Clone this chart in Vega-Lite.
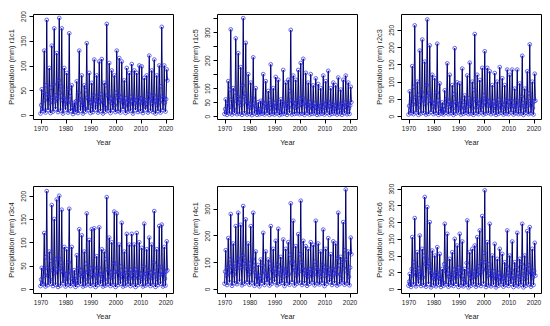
{
"$schema": "https://vega.github.io/schema/vega-lite/v6.json",
"padding": {"left": 6, "top": 10, "right": 5, "bottom": 5},
"background": "white",
"config": {
 "view": {"stroke": "#000", "strokeWidth": 1},
 "axis": {"domain": false, "grid": false, "tickColor": "#000", "tickSize": 4, "labelColor": "#222", "labelFont": "Liberation Sans", "labelFontSize": 6.5, "titleFont": "Liberation Sans", "titleFontSize": 7.3, "titleFontWeight": "normal", "titleColor": "#222"},
 "axisY": {"labelAngle": -90, "labelAlign": "center", "labelBaseline": "bottom", "labelPadding": 3, "titlePadding": 5},
 "axisX": {"labelPadding": 2, "titlePadding": 7}
},
"datasets": {
"p1": [
{"x":1970,"v":3},{"x":1970.25,"v":20},{"x":1970.5,"v":52},{"x":1970.75,"v":12},
{"x":1971,"v":8},{"x":1971.25,"v":45},{"x":1971.5,"v":130},{"x":1971.75,"v":30},
{"x":1972,"v":5},{"x":1972.25,"v":60},{"x":1972.5,"v":192},{"x":1972.75,"v":42},
{"x":1973,"v":10},{"x":1973.25,"v":38},{"x":1973.5,"v":95},{"x":1973.75,"v":25},
{"x":1974,"v":4},{"x":1974.25,"v":55},{"x":1974.5,"v":140},{"x":1974.75,"v":35},
{"x":1975,"v":7},{"x":1975.25,"v":62},{"x":1975.5,"v":175},{"x":1975.75,"v":28},
{"x":1976,"v":12},{"x":1976.25,"v":40},{"x":1976.5,"v":125},{"x":1976.75,"v":33},
{"x":1977,"v":6},{"x":1977.25,"v":70},{"x":1977.5,"v":196},{"x":1977.75,"v":45},
{"x":1978,"v":9},{"x":1978.25,"v":58},{"x":1978.5,"v":175},{"x":1978.75,"v":30},
{"x":1979,"v":3},{"x":1979.25,"v":35},{"x":1979.5,"v":95},{"x":1979.75,"v":22},
{"x":1980,"v":11},{"x":1980.25,"v":30},{"x":1980.5,"v":85},{"x":1980.75,"v":27},
{"x":1981,"v":5},{"x":1981.25,"v":52},{"x":1981.5,"v":165},{"x":1981.75,"v":38},
{"x":1982,"v":8},{"x":1982.25,"v":25},{"x":1982.5,"v":60},{"x":1982.75,"v":15},
{"x":1983,"v":2},{"x":1983.25,"v":12},{"x":1983.5,"v":25},{"x":1983.75,"v":10},
{"x":1984,"v":6},{"x":1984.25,"v":28},{"x":1984.5,"v":68},{"x":1984.75,"v":18},
{"x":1985,"v":4},{"x":1985.25,"v":45},{"x":1985.5,"v":130},{"x":1985.75,"v":32},
{"x":1986,"v":9},{"x":1986.25,"v":30},{"x":1986.5,"v":80},{"x":1986.75,"v":20},
{"x":1987,"v":3},{"x":1987.25,"v":22},{"x":1987.5,"v":60},{"x":1987.75,"v":14},
{"x":1988,"v":7},{"x":1988.25,"v":50},{"x":1988.5,"v":145},{"x":1988.75,"v":35},
{"x":1989,"v":10},{"x":1989.25,"v":32},{"x":1989.5,"v":85},{"x":1989.75,"v":25},
{"x":1990,"v":4},{"x":1990.25,"v":26},{"x":1990.5,"v":65},{"x":1990.75,"v":18},
{"x":1991,"v":6},{"x":1991.25,"v":40},{"x":1991.5,"v":112},{"x":1991.75,"v":30},
{"x":1992,"v":11},{"x":1992.25,"v":28},{"x":1992.5,"v":80},{"x":1992.75,"v":22},
{"x":1993,"v":5},{"x":1993.25,"v":38},{"x":1993.5,"v":108},{"x":1993.75,"v":27},
{"x":1994,"v":8},{"x":1994.25,"v":42},{"x":1994.5,"v":113},{"x":1994.75,"v":30},
{"x":1995,"v":3},{"x":1995.25,"v":24},{"x":1995.5,"v":65},{"x":1995.75,"v":16},
{"x":1996,"v":7},{"x":1996.25,"v":60},{"x":1996.5,"v":184},{"x":1996.75,"v":40},
{"x":1997,"v":9},{"x":1997.25,"v":38},{"x":1997.5,"v":105},{"x":1997.75,"v":28},
{"x":1998,"v":4},{"x":1998.25,"v":33},{"x":1998.5,"v":90},{"x":1998.75,"v":24},
{"x":1999,"v":10},{"x":1999.25,"v":30},{"x":1999.5,"v":80},{"x":1999.75,"v":20},
{"x":2000,"v":6},{"x":2000.25,"v":45},{"x":2000.5,"v":130},{"x":2000.75,"v":35},
{"x":2001,"v":8},{"x":2001.25,"v":40},{"x":2001.5,"v":115},{"x":2001.75,"v":30},
{"x":2002,"v":5},{"x":2002.25,"v":36},{"x":2002.5,"v":108},{"x":2002.75,"v":26},
{"x":2003,"v":12},{"x":2003.25,"v":27},{"x":2003.5,"v":70},{"x":2003.75,"v":18},
{"x":2004,"v":4},{"x":2004.25,"v":34},{"x":2004.5,"v":95},{"x":2004.75,"v":25},
{"x":2005,"v":7},{"x":2005.25,"v":30},{"x":2005.5,"v":85},{"x":2005.75,"v":22},
{"x":2006,"v":9},{"x":2006.25,"v":37},{"x":2006.5,"v":103},{"x":2006.75,"v":28},
{"x":2007,"v":3},{"x":2007.25,"v":32},{"x":2007.5,"v":90},{"x":2007.75,"v":24},
{"x":2008,"v":10},{"x":2008.25,"v":30},{"x":2008.5,"v":85},{"x":2008.75,"v":20},
{"x":2009,"v":6},{"x":2009.25,"v":35},{"x":2009.5,"v":100},{"x":2009.75,"v":27},
{"x":2010,"v":8},{"x":2010.25,"v":34},{"x":2010.5,"v":98},{"x":2010.75,"v":25},
{"x":2011,"v":4},{"x":2011.25,"v":28},{"x":2011.5,"v":75},{"x":2011.75,"v":18},
{"x":2012,"v":11},{"x":2012.25,"v":30},{"x":2012.5,"v":80},{"x":2012.75,"v":22},
{"x":2013,"v":5},{"x":2013.25,"v":42},{"x":2013.5,"v":120},{"x":2013.75,"v":30},
{"x":2014,"v":9},{"x":2014.25,"v":33},{"x":2014.5,"v":90},{"x":2014.75,"v":23},
{"x":2015,"v":6},{"x":2015.25,"v":40},{"x":2015.5,"v":112},{"x":2015.75,"v":28},
{"x":2016,"v":3},{"x":2016.25,"v":29},{"x":2016.5,"v":80},{"x":2016.75,"v":20},
{"x":2017,"v":8},{"x":2017.25,"v":36},{"x":2017.5,"v":100},{"x":2017.75,"v":26},
{"x":2018,"v":5},{"x":2018.25,"v":58},{"x":2018.5,"v":178},{"x":2018.75,"v":38},
{"x":2019,"v":10},{"x":2019.25,"v":35},{"x":2019.5,"v":100},{"x":2019.75,"v":25},
{"x":2020,"v":7},{"x":2020.25,"v":32},{"x":2020.5,"v":92},{"x":2020.75,"v":70}
],
"p2": [
{"x":1970,"v":8},{"x":1970.25,"v":25},{"x":1970.5,"v":60},{"x":1970.75,"v":15},
{"x":1971,"v":5},{"x":1971.25,"v":45},{"x":1971.5,"v":125},{"x":1971.75,"v":30},
{"x":1972,"v":10},{"x":1972.25,"v":95},{"x":1972.5,"v":310},{"x":1972.75,"v":60},
{"x":1973,"v":6},{"x":1973.25,"v":40},{"x":1973.5,"v":100},{"x":1973.75,"v":25},
{"x":1974,"v":12},{"x":1974.25,"v":85},{"x":1974.5,"v":278},{"x":1974.75,"v":55},
{"x":1975,"v":7},{"x":1975.25,"v":70},{"x":1975.5,"v":225},{"x":1975.75,"v":48},
{"x":1976,"v":9},{"x":1976.25,"v":60},{"x":1976.5,"v":175},{"x":1976.75,"v":40},
{"x":1977,"v":5},{"x":1977.25,"v":110},{"x":1977.5,"v":350},{"x":1977.75,"v":70},
{"x":1978,"v":11},{"x":1978.25,"v":80},{"x":1978.5,"v":262},{"x":1978.75,"v":52},
{"x":1979,"v":6},{"x":1979.25,"v":50},{"x":1979.5,"v":150},{"x":1979.75,"v":35},
{"x":1980,"v":8},{"x":1980.25,"v":42},{"x":1980.5,"v":120},{"x":1980.75,"v":30},
{"x":1981,"v":4},{"x":1981.25,"v":65},{"x":1981.5,"v":210},{"x":1981.75,"v":45},
{"x":1982,"v":10},{"x":1982.25,"v":38},{"x":1982.5,"v":100},{"x":1982.75,"v":25},
{"x":1983,"v":5},{"x":1983.25,"v":22},{"x":1983.5,"v":50},{"x":1983.75,"v":14},
{"x":1984,"v":7},{"x":1984.25,"v":25},{"x":1984.5,"v":55},{"x":1984.75,"v":16},
{"x":1985,"v":9},{"x":1985.25,"v":50},{"x":1985.5,"v":150},{"x":1985.75,"v":35},
{"x":1986,"v":6},{"x":1986.25,"v":45},{"x":1986.5,"v":125},{"x":1986.75,"v":30},
{"x":1987,"v":11},{"x":1987.25,"v":32},{"x":1987.5,"v":90},{"x":1987.75,"v":22},
{"x":1988,"v":5},{"x":1988.25,"v":58},{"x":1988.5,"v":185},{"x":1988.75,"v":40},
{"x":1989,"v":8},{"x":1989.25,"v":36},{"x":1989.5,"v":100},{"x":1989.75,"v":26},
{"x":1990,"v":6},{"x":1990.25,"v":48},{"x":1990.5,"v":140},{"x":1990.75,"v":32},
{"x":1991,"v":10},{"x":1991.25,"v":44},{"x":1991.5,"v":130},{"x":1991.75,"v":30},
{"x":1992,"v":4},{"x":1992.25,"v":24},{"x":1992.5,"v":60},{"x":1992.75,"v":15},
{"x":1993,"v":7},{"x":1993.25,"v":52},{"x":1993.5,"v":165},{"x":1993.75,"v":38},
{"x":1994,"v":9},{"x":1994.25,"v":42},{"x":1994.5,"v":120},{"x":1994.75,"v":28},
{"x":1995,"v":5},{"x":1995.25,"v":45},{"x":1995.5,"v":130},{"x":1995.75,"v":32},
{"x":1996,"v":12},{"x":1996.25,"v":90},{"x":1996.5,"v":308},{"x":1996.75,"v":58},
{"x":1997,"v":6},{"x":1997.25,"v":50},{"x":1997.5,"v":145},{"x":1997.75,"v":35},
{"x":1998,"v":8},{"x":1998.25,"v":45},{"x":1998.5,"v":130},{"x":1998.75,"v":30},
{"x":1999,"v":10},{"x":1999.25,"v":55},{"x":1999.5,"v":165},{"x":1999.75,"v":38},
{"x":2000,"v":7},{"x":2000.25,"v":62},{"x":2000.5,"v":190},{"x":2000.75,"v":42},
{"x":2001,"v":9},{"x":2001.25,"v":66},{"x":2001.5,"v":205},{"x":2001.75,"v":45},
{"x":2002,"v":5},{"x":2002.25,"v":52},{"x":2002.5,"v":155},{"x":2002.75,"v":36},
{"x":2003,"v":11},{"x":2003.25,"v":42},{"x":2003.5,"v":120},{"x":2003.75,"v":28},
{"x":2004,"v":6},{"x":2004.25,"v":50},{"x":2004.5,"v":150},{"x":2004.75,"v":34},
{"x":2005,"v":8},{"x":2005.25,"v":38},{"x":2005.5,"v":110},{"x":2005.75,"v":26},
{"x":2006,"v":10},{"x":2006.25,"v":46},{"x":2006.5,"v":135},{"x":2006.75,"v":30},
{"x":2007,"v":5},{"x":2007.25,"v":40},{"x":2007.5,"v":115},{"x":2007.75,"v":27},
{"x":2008,"v":7},{"x":2008.25,"v":36},{"x":2008.5,"v":100},{"x":2008.75,"v":24},
{"x":2009,"v":9},{"x":2009.25,"v":48},{"x":2009.5,"v":145},{"x":2009.75,"v":33},
{"x":2010,"v":6},{"x":2010.25,"v":43},{"x":2010.5,"v":125},{"x":2010.75,"v":29},
{"x":2011,"v":12},{"x":2011.25,"v":54},{"x":2011.5,"v":162},{"x":2011.75,"v":36},
{"x":2012,"v":5},{"x":2012.25,"v":36},{"x":2012.5,"v":100},{"x":2012.75,"v":24},
{"x":2013,"v":8},{"x":2013.25,"v":42},{"x":2013.5,"v":120},{"x":2013.75,"v":28},
{"x":2014,"v":10},{"x":2014.25,"v":38},{"x":2014.5,"v":110},{"x":2014.75,"v":26},
{"x":2015,"v":6},{"x":2015.25,"v":47},{"x":2015.5,"v":138},{"x":2015.75,"v":31},
{"x":2016,"v":9},{"x":2016.25,"v":34},{"x":2016.5,"v":95},{"x":2016.75,"v":22},
{"x":2017,"v":5},{"x":2017.25,"v":45},{"x":2017.5,"v":130},{"x":2017.75,"v":30},
{"x":2018,"v":11},{"x":2018.25,"v":49},{"x":2018.5,"v":145},{"x":2018.75,"v":33},
{"x":2019,"v":7},{"x":2019.25,"v":42},{"x":2019.5,"v":120},{"x":2019.75,"v":28},
{"x":2020,"v":8},{"x":2020.25,"v":38},{"x":2020.5,"v":105},{"x":2020.75,"v":50}
],
"p3": [
{"x":1970,"v":5},{"x":1970.25,"v":30},{"x":1970.5,"v":72},{"x":1970.75,"v":18},
{"x":1971,"v":9},{"x":1971.25,"v":50},{"x":1971.5,"v":145},{"x":1971.75,"v":34},
{"x":1972,"v":6},{"x":1972.25,"v":85},{"x":1972.5,"v":263},{"x":1972.75,"v":55},
{"x":1973,"v":11},{"x":1973.25,"v":38},{"x":1973.5,"v":100},{"x":1973.75,"v":25},
{"x":1974,"v":4},{"x":1974.25,"v":62},{"x":1974.5,"v":190},{"x":1974.75,"v":42},
{"x":1975,"v":8},{"x":1975.25,"v":70},{"x":1975.5,"v":222},{"x":1975.75,"v":48},
{"x":1976,"v":10},{"x":1976.25,"v":52},{"x":1976.5,"v":158},{"x":1976.75,"v":36},
{"x":1977,"v":5},{"x":1977.25,"v":90},{"x":1977.5,"v":280},{"x":1977.75,"v":60},
{"x":1978,"v":7},{"x":1978.25,"v":66},{"x":1978.5,"v":205},{"x":1978.75,"v":45},
{"x":1979,"v":12},{"x":1979.25,"v":42},{"x":1979.5,"v":120},{"x":1979.75,"v":28},
{"x":1980,"v":6},{"x":1980.25,"v":38},{"x":1980.5,"v":110},{"x":1980.75,"v":26},
{"x":1981,"v":9},{"x":1981.25,"v":68},{"x":1981.5,"v":210},{"x":1981.75,"v":46},
{"x":1982,"v":4},{"x":1982.25,"v":35},{"x":1982.5,"v":95},{"x":1982.75,"v":22},
{"x":1983,"v":8},{"x":1983.25,"v":18},{"x":1983.5,"v":40},{"x":1983.75,"v":12},
{"x":1984,"v":5},{"x":1984.25,"v":30},{"x":1984.5,"v":75},{"x":1984.75,"v":20},
{"x":1985,"v":10},{"x":1985.25,"v":50},{"x":1985.5,"v":153},{"x":1985.75,"v":35},
{"x":1986,"v":6},{"x":1986.25,"v":42},{"x":1986.5,"v":120},{"x":1986.75,"v":28},
{"x":1987,"v":9},{"x":1987.25,"v":33},{"x":1987.5,"v":90},{"x":1987.75,"v":22},
{"x":1988,"v":4},{"x":1988.25,"v":64},{"x":1988.5,"v":197},{"x":1988.75,"v":42},
{"x":1989,"v":8},{"x":1989.25,"v":36},{"x":1989.5,"v":98},{"x":1989.75,"v":24},
{"x":1990,"v":11},{"x":1990.25,"v":35},{"x":1990.5,"v":95},{"x":1990.75,"v":23},
{"x":1991,"v":5},{"x":1991.25,"v":46},{"x":1991.5,"v":138},{"x":1991.75,"v":32},
{"x":1992,"v":7},{"x":1992.25,"v":24},{"x":1992.5,"v":60},{"x":1992.75,"v":16},
{"x":1993,"v":10},{"x":1993.25,"v":41},{"x":1993.5,"v":118},{"x":1993.75,"v":28},
{"x":1994,"v":6},{"x":1994.25,"v":52},{"x":1994.5,"v":155},{"x":1994.75,"v":35},
{"x":1995,"v":8},{"x":1995.25,"v":36},{"x":1995.5,"v":100},{"x":1995.75,"v":24},
{"x":1996,"v":4},{"x":1996.25,"v":76},{"x":1996.5,"v":238},{"x":1996.75,"v":50},
{"x":1997,"v":9},{"x":1997.25,"v":42},{"x":1997.5,"v":120},{"x":1997.75,"v":28},
{"x":1998,"v":6},{"x":1998.25,"v":38},{"x":1998.5,"v":105},{"x":1998.75,"v":25},
{"x":1999,"v":11},{"x":1999.25,"v":47},{"x":1999.5,"v":140},{"x":1999.75,"v":32},
{"x":2000,"v":5},{"x":2000.25,"v":60},{"x":2000.5,"v":188},{"x":2000.75,"v":40},
{"x":2001,"v":8},{"x":2001.25,"v":47},{"x":2001.5,"v":140},{"x":2001.75,"v":32},
{"x":2002,"v":10},{"x":2002.25,"v":44},{"x":2002.5,"v":130},{"x":2002.75,"v":30},
{"x":2003,"v":6},{"x":2003.25,"v":33},{"x":2003.5,"v":90},{"x":2003.75,"v":22},
{"x":2004,"v":9},{"x":2004.25,"v":43},{"x":2004.5,"v":125},{"x":2004.75,"v":29},
{"x":2005,"v":4},{"x":2005.25,"v":36},{"x":2005.5,"v":100},{"x":2005.75,"v":24},
{"x":2006,"v":7},{"x":2006.25,"v":48},{"x":2006.5,"v":142},{"x":2006.75,"v":32},
{"x":2007,"v":10},{"x":2007.25,"v":39},{"x":2007.5,"v":110},{"x":2007.75,"v":26},
{"x":2008,"v":5},{"x":2008.25,"v":33},{"x":2008.5,"v":90},{"x":2008.75,"v":21},
{"x":2009,"v":8},{"x":2009.25,"v":46},{"x":2009.5,"v":135},{"x":2009.75,"v":31},
{"x":2010,"v":6},{"x":2010.25,"v":42},{"x":2010.5,"v":120},{"x":2010.75,"v":28},
{"x":2011,"v":11},{"x":2011.25,"v":46},{"x":2011.5,"v":135},{"x":2011.75,"v":30},
{"x":2012,"v":5},{"x":2012.25,"v":30},{"x":2012.5,"v":80},{"x":2012.75,"v":19},
{"x":2013,"v":9},{"x":2013.25,"v":46},{"x":2013.5,"v":135},{"x":2013.75,"v":31},
{"x":2014,"v":6},{"x":2014.25,"v":35},{"x":2014.5,"v":95},{"x":2014.75,"v":23},
{"x":2015,"v":8},{"x":2015.25,"v":57},{"x":2015.5,"v":175},{"x":2015.75,"v":38},
{"x":2016,"v":4},{"x":2016.25,"v":30},{"x":2016.5,"v":80},{"x":2016.75,"v":19},
{"x":2017,"v":10},{"x":2017.25,"v":45},{"x":2017.5,"v":130},{"x":2017.75,"v":30},
{"x":2018,"v":6},{"x":2018.25,"v":66},{"x":2018.5,"v":208},{"x":2018.75,"v":44},
{"x":2019,"v":9},{"x":2019.25,"v":36},{"x":2019.5,"v":100},{"x":2019.75,"v":24},
{"x":2020,"v":5},{"x":2020.25,"v":43},{"x":2020.5,"v":123},{"x":2020.75,"v":45}
],
"p4": [
{"x":1970,"v":6},{"x":1970.25,"v":20},{"x":1970.5,"v":45},{"x":1970.75,"v":12},
{"x":1971,"v":10},{"x":1971.25,"v":42},{"x":1971.5,"v":120},{"x":1971.75,"v":28},
{"x":1972,"v":5},{"x":1972.25,"v":68},{"x":1972.5,"v":210},{"x":1972.75,"v":45},
{"x":1973,"v":8},{"x":1973.25,"v":32},{"x":1973.5,"v":80},{"x":1973.75,"v":20},
{"x":1974,"v":11},{"x":1974.25,"v":60},{"x":1974.5,"v":180},{"x":1974.75,"v":40},
{"x":1975,"v":6},{"x":1975.25,"v":50},{"x":1975.5,"v":150},{"x":1975.75,"v":34},
{"x":1976,"v":9},{"x":1976.25,"v":64},{"x":1976.5,"v":192},{"x":1976.75,"v":42},
{"x":1977,"v":4},{"x":1977.25,"v":66},{"x":1977.5,"v":200},{"x":1977.75,"v":44},
{"x":1978,"v":7},{"x":1978.25,"v":56},{"x":1978.5,"v":170},{"x":1978.75,"v":38},
{"x":1979,"v":12},{"x":1979.25,"v":34},{"x":1979.5,"v":90},{"x":1979.75,"v":22},
{"x":1980,"v":5},{"x":1980.25,"v":32},{"x":1980.5,"v":85},{"x":1980.75,"v":21},
{"x":1981,"v":9},{"x":1981.25,"v":57},{"x":1981.5,"v":172},{"x":1981.75,"v":38},
{"x":1982,"v":6},{"x":1982.25,"v":34},{"x":1982.5,"v":90},{"x":1982.75,"v":22},
{"x":1983,"v":10},{"x":1983.25,"v":18},{"x":1983.5,"v":40},{"x":1983.75,"v":12},
{"x":1984,"v":4},{"x":1984.25,"v":28},{"x":1984.5,"v":72},{"x":1984.75,"v":18},
{"x":1985,"v":8},{"x":1985.25,"v":44},{"x":1985.5,"v":128},{"x":1985.75,"v":30},
{"x":1986,"v":11},{"x":1986.25,"v":40},{"x":1986.5,"v":115},{"x":1986.75,"v":27},
{"x":1987,"v":5},{"x":1987.25,"v":31},{"x":1987.5,"v":80},{"x":1987.75,"v":20},
{"x":1988,"v":7},{"x":1988.25,"v":54},{"x":1988.5,"v":162},{"x":1988.75,"v":36},
{"x":1989,"v":10},{"x":1989.25,"v":38},{"x":1989.5,"v":105},{"x":1989.75,"v":25},
{"x":1990,"v":6},{"x":1990.25,"v":44},{"x":1990.5,"v":128},{"x":1990.75,"v":30},
{"x":1991,"v":9},{"x":1991.25,"v":45},{"x":1991.5,"v":130},{"x":1991.75,"v":30},
{"x":1992,"v":4},{"x":1992.25,"v":27},{"x":1992.5,"v":70},{"x":1992.75,"v":17},
{"x":1993,"v":8},{"x":1993.25,"v":45},{"x":1993.5,"v":132},{"x":1993.75,"v":31},
{"x":1994,"v":11},{"x":1994.25,"v":32},{"x":1994.5,"v":85},{"x":1994.75,"v":21},
{"x":1995,"v":5},{"x":1995.25,"v":31},{"x":1995.5,"v":80},{"x":1995.75,"v":20},
{"x":1996,"v":7},{"x":1996.25,"v":64},{"x":1996.5,"v":197},{"x":1996.75,"v":42},
{"x":1997,"v":10},{"x":1997.25,"v":39},{"x":1997.5,"v":110},{"x":1997.75,"v":26},
{"x":1998,"v":6},{"x":1998.25,"v":36},{"x":1998.5,"v":100},{"x":1998.75,"v":24},
{"x":1999,"v":9},{"x":1999.25,"v":55},{"x":1999.5,"v":166},{"x":1999.75,"v":37},
{"x":2000,"v":4},{"x":2000.25,"v":54},{"x":2000.5,"v":162},{"x":2000.75,"v":36},
{"x":2001,"v":8},{"x":2001.25,"v":35},{"x":2001.5,"v":95},{"x":2001.75,"v":23},
{"x":2002,"v":11},{"x":2002.25,"v":48},{"x":2002.5,"v":142},{"x":2002.75,"v":32},
{"x":2003,"v":5},{"x":2003.25,"v":31},{"x":2003.5,"v":80},{"x":2003.75,"v":20},
{"x":2004,"v":7},{"x":2004.25,"v":41},{"x":2004.5,"v":118},{"x":2004.75,"v":28},
{"x":2005,"v":10},{"x":2005.25,"v":35},{"x":2005.5,"v":95},{"x":2005.75,"v":23},
{"x":2006,"v":6},{"x":2006.25,"v":41},{"x":2006.5,"v":118},{"x":2006.75,"v":28},
{"x":2007,"v":9},{"x":2007.25,"v":35},{"x":2007.5,"v":95},{"x":2007.75,"v":23},
{"x":2008,"v":4},{"x":2008.25,"v":42},{"x":2008.5,"v":120},{"x":2008.75,"v":28},
{"x":2009,"v":8},{"x":2009.25,"v":36},{"x":2009.5,"v":100},{"x":2009.75,"v":24},
{"x":2010,"v":11},{"x":2010.25,"v":33},{"x":2010.5,"v":88},{"x":2010.75,"v":21},
{"x":2011,"v":5},{"x":2011.25,"v":48},{"x":2011.5,"v":140},{"x":2011.75,"v":32},
{"x":2012,"v":7},{"x":2012.25,"v":32},{"x":2012.5,"v":85},{"x":2012.75,"v":21},
{"x":2013,"v":10},{"x":2013.25,"v":39},{"x":2013.5,"v":110},{"x":2013.75,"v":26},
{"x":2014,"v":6},{"x":2014.25,"v":35},{"x":2014.5,"v":95},{"x":2014.75,"v":23},
{"x":2015,"v":9},{"x":2015.25,"v":56},{"x":2015.5,"v":167},{"x":2015.75,"v":37},
{"x":2016,"v":4},{"x":2016.25,"v":32},{"x":2016.5,"v":85},{"x":2016.75,"v":21},
{"x":2017,"v":8},{"x":2017.25,"v":46},{"x":2017.5,"v":135},{"x":2017.75,"v":31},
{"x":2018,"v":11},{"x":2018.25,"v":47},{"x":2018.5,"v":138},{"x":2018.75,"v":31},
{"x":2019,"v":5},{"x":2019.25,"v":34},{"x":2019.5,"v":90},{"x":2019.75,"v":22},
{"x":2020,"v":7},{"x":2020.25,"v":37},{"x":2020.5,"v":102},{"x":2020.75,"v":40}
],
"p5": [
{"x":1970,"v":20},{"x":1970.25,"v":65},{"x":1970.5,"v":145},{"x":1970.75,"v":50},
{"x":1971,"v":15},{"x":1971.25,"v":80},{"x":1971.5,"v":190},{"x":1971.75,"v":60},
{"x":1972,"v":25},{"x":1972.25,"v":110},{"x":1972.5,"v":280},{"x":1972.75,"v":85},
{"x":1973,"v":12},{"x":1973.25,"v":75},{"x":1973.5,"v":170},{"x":1973.75,"v":55},
{"x":1974,"v":22},{"x":1974.25,"v":95},{"x":1974.5,"v":235},{"x":1974.75,"v":75},
{"x":1975,"v":18},{"x":1975.25,"v":115},{"x":1975.5,"v":285},{"x":1975.75,"v":90},
{"x":1976,"v":28},{"x":1976.25,"v":100},{"x":1976.5,"v":240},{"x":1976.75,"v":80},
{"x":1977,"v":14},{"x":1977.25,"v":125},{"x":1977.5,"v":310},{"x":1977.75,"v":95},
{"x":1978,"v":20},{"x":1978.25,"v":105},{"x":1978.5,"v":260},{"x":1978.75,"v":85},
{"x":1979,"v":26},{"x":1979.25,"v":72},{"x":1979.5,"v":170},{"x":1979.75,"v":55},
{"x":1980,"v":16},{"x":1980.25,"v":95},{"x":1980.5,"v":235},{"x":1980.75,"v":75},
{"x":1981,"v":24},{"x":1981.25,"v":112},{"x":1981.5,"v":285},{"x":1981.75,"v":88},
{"x":1982,"v":12},{"x":1982.25,"v":62},{"x":1982.5,"v":140},{"x":1982.75,"v":48},
{"x":1983,"v":18},{"x":1983.25,"v":45},{"x":1983.5,"v":90},{"x":1983.75,"v":30},
{"x":1984,"v":10},{"x":1984.25,"v":50},{"x":1984.5,"v":110},{"x":1984.75,"v":38},
{"x":1985,"v":22},{"x":1985.25,"v":88},{"x":1985.5,"v":210},{"x":1985.75,"v":68},
{"x":1986,"v":15},{"x":1986.25,"v":62},{"x":1986.5,"v":140},{"x":1986.75,"v":48},
{"x":1987,"v":25},{"x":1987.25,"v":50},{"x":1987.5,"v":110},{"x":1987.75,"v":38},
{"x":1988,"v":13},{"x":1988.25,"v":95},{"x":1988.5,"v":235},{"x":1988.75,"v":75},
{"x":1989,"v":20},{"x":1989.25,"v":66},{"x":1989.5,"v":150},{"x":1989.75,"v":50},
{"x":1990,"v":27},{"x":1990.25,"v":76},{"x":1990.5,"v":180},{"x":1990.75,"v":58},
{"x":1991,"v":14},{"x":1991.25,"v":92},{"x":1991.5,"v":225},{"x":1991.75,"v":72},
{"x":1992,"v":19},{"x":1992.25,"v":54},{"x":1992.5,"v":120},{"x":1992.75,"v":40},
{"x":1993,"v":23},{"x":1993.25,"v":78},{"x":1993.5,"v":185},{"x":1993.75,"v":60},
{"x":1994,"v":11},{"x":1994.25,"v":66},{"x":1994.5,"v":150},{"x":1994.75,"v":50},
{"x":1995,"v":21},{"x":1995.25,"v":74},{"x":1995.5,"v":175},{"x":1995.75,"v":56},
{"x":1996,"v":16},{"x":1996.25,"v":128},{"x":1996.5,"v":320},{"x":1996.75,"v":98},
{"x":1997,"v":26},{"x":1997.25,"v":102},{"x":1997.5,"v":255},{"x":1997.75,"v":80},
{"x":1998,"v":13},{"x":1998.25,"v":70},{"x":1998.5,"v":160},{"x":1998.75,"v":52},
{"x":1999,"v":20},{"x":1999.25,"v":86},{"x":1999.5,"v":205},{"x":1999.75,"v":65},
{"x":2000,"v":24},{"x":2000.25,"v":130},{"x":2000.5,"v":330},{"x":2000.75,"v":100},
{"x":2001,"v":15},{"x":2001.25,"v":76},{"x":2001.5,"v":180},{"x":2001.75,"v":58},
{"x":2002,"v":22},{"x":2002.25,"v":70},{"x":2002.5,"v":160},{"x":2002.75,"v":52},
{"x":2003,"v":12},{"x":2003.25,"v":66},{"x":2003.5,"v":150},{"x":2003.75,"v":48},
{"x":2004,"v":19},{"x":2004.25,"v":74},{"x":2004.5,"v":175},{"x":2004.75,"v":56},
{"x":2005,"v":25},{"x":2005.25,"v":70},{"x":2005.5,"v":165},{"x":2005.75,"v":54},
{"x":2006,"v":14},{"x":2006.25,"v":102},{"x":2006.5,"v":255},{"x":2006.75,"v":80},
{"x":2007,"v":21},{"x":2007.25,"v":72},{"x":2007.5,"v":170},{"x":2007.75,"v":55},
{"x":2008,"v":17},{"x":2008.25,"v":62},{"x":2008.5,"v":140},{"x":2008.75,"v":46},
{"x":2009,"v":23},{"x":2009.25,"v":90},{"x":2009.5,"v":222},{"x":2009.75,"v":70},
{"x":2010,"v":11},{"x":2010.25,"v":66},{"x":2010.5,"v":150},{"x":2010.75,"v":50},
{"x":2011,"v":20},{"x":2011.25,"v":80},{"x":2011.5,"v":190},{"x":2011.75,"v":60},
{"x":2012,"v":26},{"x":2012.25,"v":58},{"x":2012.5,"v":130},{"x":2012.75,"v":44},
{"x":2013,"v":15},{"x":2013.25,"v":76},{"x":2013.5,"v":178},{"x":2013.75,"v":58},
{"x":2014,"v":22},{"x":2014.25,"v":72},{"x":2014.5,"v":170},{"x":2014.75,"v":55},
{"x":2015,"v":13},{"x":2015.25,"v":114},{"x":2015.5,"v":285},{"x":2015.75,"v":88},
{"x":2016,"v":18},{"x":2016.25,"v":55},{"x":2016.5,"v":120},{"x":2016.75,"v":40},
{"x":2017,"v":24},{"x":2017.25,"v":100},{"x":2017.5,"v":250},{"x":2017.75,"v":78},
{"x":2018,"v":16},{"x":2018.25,"v":145},{"x":2018.5,"v":372},{"x":2018.75,"v":110},
{"x":2019,"v":21},{"x":2019.25,"v":62},{"x":2019.5,"v":140},{"x":2019.75,"v":46},
{"x":2020,"v":14},{"x":2020.25,"v":80},{"x":2020.5,"v":192},{"x":2020.75,"v":130}
],
"p6": [
{"x":1970,"v":10},{"x":1970.25,"v":22},{"x":1970.5,"v":45},{"x":1970.75,"v":15},
{"x":1971,"v":6},{"x":1971.25,"v":60},{"x":1971.5,"v":155},{"x":1971.75,"v":42},
{"x":1972,"v":14},{"x":1972.25,"v":80},{"x":1972.5,"v":212},{"x":1972.75,"v":58},
{"x":1973,"v":8},{"x":1973.25,"v":45},{"x":1973.5,"v":110},{"x":1973.75,"v":32},
{"x":1974,"v":16},{"x":1974.25,"v":62},{"x":1974.5,"v":160},{"x":1974.75,"v":45},
{"x":1975,"v":9},{"x":1975.25,"v":48},{"x":1975.5,"v":120},{"x":1975.75,"v":35},
{"x":1976,"v":12},{"x":1976.25,"v":100},{"x":1976.5,"v":275},{"x":1976.75,"v":75},
{"x":1977,"v":7},{"x":1977.25,"v":90},{"x":1977.5,"v":245},{"x":1977.75,"v":68},
{"x":1978,"v":15},{"x":1978.25,"v":76},{"x":1978.5,"v":200},{"x":1978.75,"v":55},
{"x":1979,"v":5},{"x":1979.25,"v":46},{"x":1979.5,"v":115},{"x":1979.75,"v":34},
{"x":1980,"v":11},{"x":1980.25,"v":40},{"x":1980.5,"v":100},{"x":1980.75,"v":30},
{"x":1981,"v":8},{"x":1981.25,"v":50},{"x":1981.5,"v":125},{"x":1981.75,"v":36},
{"x":1982,"v":13},{"x":1982.25,"v":42},{"x":1982.5,"v":105},{"x":1982.75,"v":31},
{"x":1983,"v":6},{"x":1983.25,"v":28},{"x":1983.5,"v":60},{"x":1983.75,"v":20},
{"x":1984,"v":10},{"x":1984.25,"v":74},{"x":1984.5,"v":195},{"x":1984.75,"v":54},
{"x":1985,"v":14},{"x":1985.25,"v":64},{"x":1985.5,"v":165},{"x":1985.75,"v":46},
{"x":1986,"v":7},{"x":1986.25,"v":37},{"x":1986.5,"v":90},{"x":1986.75,"v":28},
{"x":1987,"v":12},{"x":1987.25,"v":44},{"x":1987.5,"v":110},{"x":1987.75,"v":32},
{"x":1988,"v":9},{"x":1988.25,"v":58},{"x":1988.5,"v":150},{"x":1988.75,"v":42},
{"x":1989,"v":15},{"x":1989.25,"v":52},{"x":1989.5,"v":130},{"x":1989.75,"v":38},
{"x":1990,"v":6},{"x":1990.25,"v":64},{"x":1990.5,"v":165},{"x":1990.75,"v":46},
{"x":1991,"v":11},{"x":1991.25,"v":56},{"x":1991.5,"v":142},{"x":1991.75,"v":40},
{"x":1992,"v":8},{"x":1992.25,"v":28},{"x":1992.5,"v":60},{"x":1992.75,"v":20},
{"x":1993,"v":13},{"x":1993.25,"v":78},{"x":1993.5,"v":205},{"x":1993.75,"v":56},
{"x":1994,"v":5},{"x":1994.25,"v":44},{"x":1994.5,"v":110},{"x":1994.75,"v":32},
{"x":1995,"v":10},{"x":1995.25,"v":48},{"x":1995.5,"v":120},{"x":1995.75,"v":35},
{"x":1996,"v":14},{"x":1996.25,"v":52},{"x":1996.5,"v":130},{"x":1996.75,"v":38},
{"x":1997,"v":7},{"x":1997.25,"v":60},{"x":1997.5,"v":155},{"x":1997.75,"v":44},
{"x":1998,"v":12},{"x":1998.25,"v":68},{"x":1998.5,"v":175},{"x":1998.75,"v":48},
{"x":1999,"v":9},{"x":1999.25,"v":82},{"x":1999.5,"v":218},{"x":1999.75,"v":60},
{"x":2000,"v":16},{"x":2000.25,"v":108},{"x":2000.5,"v":295},{"x":2000.75,"v":80},
{"x":2001,"v":6},{"x":2001.25,"v":55},{"x":2001.5,"v":140},{"x":2001.75,"v":40},
{"x":2002,"v":11},{"x":2002.25,"v":74},{"x":2002.5,"v":195},{"x":2002.75,"v":54},
{"x":2003,"v":8},{"x":2003.25,"v":40},{"x":2003.5,"v":100},{"x":2003.75,"v":30},
{"x":2004,"v":13},{"x":2004.25,"v":53},{"x":2004.5,"v":135},{"x":2004.75,"v":39},
{"x":2005,"v":5},{"x":2005.25,"v":37},{"x":2005.5,"v":90},{"x":2005.75,"v":27},
{"x":2006,"v":10},{"x":2006.25,"v":48},{"x":2006.5,"v":120},{"x":2006.75,"v":35},
{"x":2007,"v":14},{"x":2007.25,"v":42},{"x":2007.5,"v":105},{"x":2007.75,"v":31},
{"x":2008,"v":7},{"x":2008.25,"v":33},{"x":2008.5,"v":80},{"x":2008.75,"v":25},
{"x":2009,"v":12},{"x":2009.25,"v":67},{"x":2009.5,"v":175},{"x":2009.75,"v":48},
{"x":2010,"v":9},{"x":2010.25,"v":40},{"x":2010.5,"v":100},{"x":2010.75,"v":30},
{"x":2011,"v":15},{"x":2011.25,"v":56},{"x":2011.5,"v":142},{"x":2011.75,"v":40},
{"x":2012,"v":6},{"x":2012.25,"v":33},{"x":2012.5,"v":80},{"x":2012.75,"v":25},
{"x":2013,"v":11},{"x":2013.25,"v":65},{"x":2013.5,"v":168},{"x":2013.75,"v":47},
{"x":2014,"v":8},{"x":2014.25,"v":37},{"x":2014.5,"v":90},{"x":2014.75,"v":28},
{"x":2015,"v":13},{"x":2015.25,"v":74},{"x":2015.5,"v":195},{"x":2015.75,"v":54},
{"x":2016,"v":5},{"x":2016.25,"v":40},{"x":2016.5,"v":100},{"x":2016.75,"v":30},
{"x":2017,"v":10},{"x":2017.25,"v":67},{"x":2017.5,"v":173},{"x":2017.75,"v":48},
{"x":2018,"v":14},{"x":2018.25,"v":71},{"x":2018.5,"v":185},{"x":2018.75,"v":51},
{"x":2019,"v":7},{"x":2019.25,"v":48},{"x":2019.5,"v":120},{"x":2019.75,"v":35},
{"x":2020,"v":12},{"x":2020.25,"v":54},{"x":2020.5,"v":138},{"x":2020.75,"v":40}
]
},
"spacing": 35,
"vconcat": [
{"spacing": 16, "hconcat": [
 {"width": 140, "height": 105, "data": {"name": "p1"},
  "encoding": {"x": {"field": "x", "type": "quantitative", "scale": {"domain": [1967, 2023], "nice": false, "zero": false}, "axis": {"values": [1970,1980,1990,2000,2010,2020], "format": "d", "title": "Year"}},
   "y": {"field": "v", "type": "quantitative", "scale": {"domain": [-8, 204], "nice": false, "zero": false}, "axis": {"values": [0,50,100,150,200], "title": "Precipitation (mm) r1c1"}}},
  "layer": [{"mark": {"type": "line", "color": "#00006e", "strokeWidth": 1}}, {"mark": {"type": "point", "shape": "circle", "filled": false, "color": "#2626f0", "size": 14, "strokeWidth": 1}}]},
 {"width": 140, "height": 105, "data": {"name": "p2"},
  "encoding": {"x": {"field": "x", "type": "quantitative", "scale": {"domain": [1967, 2023], "nice": false, "zero": false}, "axis": {"values": [1970,1980,1990,2000,2010,2020], "format": "d", "title": "Year"}},
   "y": {"field": "v", "type": "quantitative", "scale": {"domain": [-10, 365], "nice": false, "zero": false}, "axis": {"values": [0,50,100,150,200,250,300,350], "labelExpr": "datum.value==150||datum.value==250||datum.value==350 ? '' : datum.label", "title": "Precipitation (mm) r1c5"}}},
  "layer": [{"mark": {"type": "line", "color": "#00006e", "strokeWidth": 1}}, {"mark": {"type": "point", "shape": "circle", "filled": false, "color": "#2626f0", "size": 14, "strokeWidth": 1}}]},
 {"width": 140, "height": 105, "data": {"name": "p3"},
  "encoding": {"x": {"field": "x", "type": "quantitative", "scale": {"domain": [1967, 2023], "nice": false, "zero": false}, "axis": {"values": [1970,1980,1990,2000,2010,2020], "format": "d", "title": "Year"}},
   "y": {"field": "v", "type": "quantitative", "scale": {"domain": [-8, 296], "nice": false, "zero": false}, "axis": {"values": [0,50,100,150,200,250], "title": "Precipitation (mm) r2c3"}}},
  "layer": [{"mark": {"type": "line", "color": "#00006e", "strokeWidth": 1}}, {"mark": {"type": "point", "shape": "circle", "filled": false, "color": "#2626f0", "size": 14, "strokeWidth": 1}}]}
]},
{"spacing": 16, "hconcat": [
 {"width": 140, "height": 107, "data": {"name": "p4"},
  "encoding": {"x": {"field": "x", "type": "quantitative", "scale": {"domain": [1967, 2023], "nice": false, "zero": false}, "axis": {"values": [1970,1980,1990,2000,2010,2020], "format": "d", "title": "Year"}},
   "y": {"field": "v", "type": "quantitative", "scale": {"domain": [-9, 221], "nice": false, "zero": false}, "axis": {"values": [0,50,100,150,200], "title": "Precipitation (mm) r3c4"}}},
  "layer": [{"mark": {"type": "line", "color": "#00006e", "strokeWidth": 1}}, {"mark": {"type": "point", "shape": "circle", "filled": false, "color": "#2626f0", "size": 14, "strokeWidth": 1}}]},
 {"width": 140, "height": 107, "data": {"name": "p5"},
  "encoding": {"x": {"field": "x", "type": "quantitative", "scale": {"domain": [1967, 2023], "nice": false, "zero": false}, "axis": {"values": [1970,1980,1990,2000,2010,2020], "format": "d", "title": "Year"}},
   "y": {"field": "v", "type": "quantitative", "scale": {"domain": [-15, 385], "nice": false, "zero": false}, "axis": {"values": [0,100,200,300], "title": "Precipitation (mm) r4c1"}}},
  "layer": [{"mark": {"type": "line", "color": "#00006e", "strokeWidth": 1}}, {"mark": {"type": "point", "shape": "circle", "filled": false, "color": "#2626f0", "size": 14, "strokeWidth": 1}}]},
 {"width": 140, "height": 107, "data": {"name": "p6"},
  "encoding": {"x": {"field": "x", "type": "quantitative", "scale": {"domain": [1967, 2023], "nice": false, "zero": false}, "axis": {"values": [1970,1980,1990,2000,2010,2020], "format": "d", "title": "Year"}},
   "y": {"field": "v", "type": "quantitative", "scale": {"domain": [-12, 308], "nice": false, "zero": false}, "axis": {"values": [0,50,100,150,200,250,300], "title": "Precipitation (mm) r4c6"}}},
  "layer": [{"mark": {"type": "line", "color": "#00006e", "strokeWidth": 1}}, {"mark": {"type": "point", "shape": "circle", "filled": false, "color": "#2626f0", "size": 14, "strokeWidth": 1}}]}
]}
]
}
